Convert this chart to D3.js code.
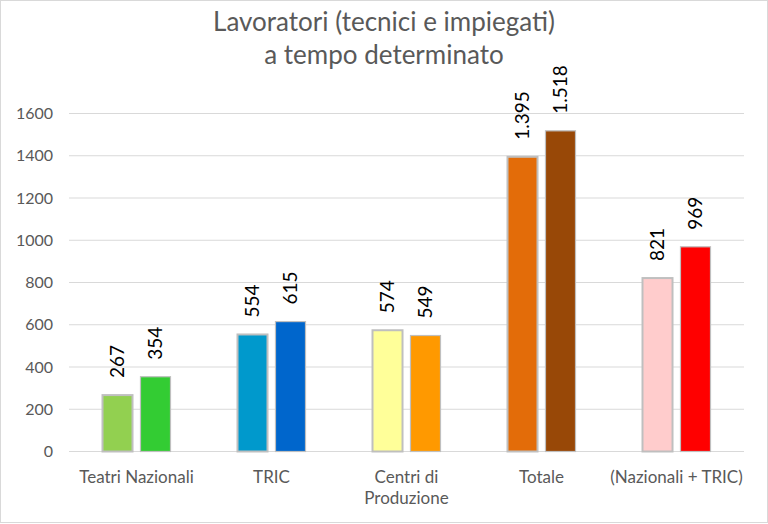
<!DOCTYPE html>
<html><head><meta charset="utf-8">
<script src="https://cdn.jsdelivr.net/npm/d3@7"></script>
<style>body{margin:0;background:#fff}svg{display:block}</style>
</head><body>
<svg id="c" width="768" height="524"></svg>
<script>
const categories = ["Teatri Nazionali","TRIC","Centri di|Produzione","Totale","(Nazionali + TRIC)"];
const series1 = [267,554,574,1395,821];
const series2 = [354,615,549,1518,969];
const colors1 = ["#92D050","#0099CC","#FFFF99","#E36C09","#FFCCCC"];
const colors2 = ["#33CC33","#0066CC","#FF9900","#984807","#FF0000"];
const yTicks = [0,200,400,600,800,1000,1200,1400,1600];
const titleLines = ["Lavoratori (tecnici e impiegati)","a tempo determinato"];

(function(){
const svg = d3.select("#c");
const font = "Lato, 'Open Sans', sans-serif";
svg.append("rect").attr("x",0.5).attr("y",0.5).attr("width",767).attr("height",522)
  .attr("fill","#fff").attr("stroke","#D9D9D9");

const pL=69,pR=744,pT=113.5,pB=451.5;
const x = d3.scaleBand().domain(d3.range(categories.length)).range([pL,pR]).padding(0);
const y = d3.scaleLinear().domain([0,1600]).range([pB,pT]);
const xs = d3.scaleBand().domain([0,1]).range([-34,34]).paddingInner(0.21);

svg.append("g").selectAll("line").data(yTicks).join("line")
  .attr("x1",pL).attr("x2",pR).attr("y1",d=>y(d)).attr("y2",d=>y(d))
  .attr("stroke","#D9D9D9").attr("stroke-width",1);
svg.append("g").selectAll("text").data(yTicks).join("text")
  .attr("x",53).attr("y",d=>y(d)).attr("dy","0.35em").attr("text-anchor","end")
  .attr("font-family",font).attr("font-size",16).attr("fill","#595959").text(d=>d);

svg.selectAll("text.title").data(titleLines).join("text").attr("class","title")
  .attr("x",384).attr("y",(d,i)=>31+i*33).attr("text-anchor","middle")
  .attr("font-family",font).attr("font-size",26).attr("fill","#595959").text(d=>d);

const loc = d3.formatLocale({decimal:",",thousands:".",grouping:[3],currency:["","€"]});
const fmt = loc.format(",d");
const allSeries=[series1,series2], allColors=[colors1,colors2];
allSeries.forEach((s,si)=>{
  const g = svg.append("g");
  g.selectAll("rect").data(s).join("rect")
    .attr("x",(d,i)=>x(i)+x.bandwidth()/2+xs(si))
    .attr("y",d=>y(d)).attr("width",xs.bandwidth()).attr("height",d=>y(0)-y(d))
    .attr("fill",(d,i)=>allColors[si][i]).attr("stroke","#BFBFBF").attr("stroke-width",si===0?2:1.2);
  g.selectAll("text").data(s).join("text")
    .attr("transform",(d,i)=>`translate(${x(i)+x.bandwidth()/2+xs(si)+xs.bandwidth()/2},${y(d)-17}) rotate(-90)`)
    .attr("dy","0.35em").attr("text-anchor","start")
    .attr("font-family",font).attr("font-size",19).attr("fill","#000").text(d=>fmt(d));
});

categories.forEach((c,i)=>{
  c.split("|").forEach((ln,j)=>{
    svg.append("text").attr("x",x(i)+x.bandwidth()/2).attr("y",482.5+j*21).attr("text-anchor","middle")
      .attr("font-family",font).attr("font-size",17).attr("fill","#595959").text(ln);
  });
});
})();
</script>
</body></html>
